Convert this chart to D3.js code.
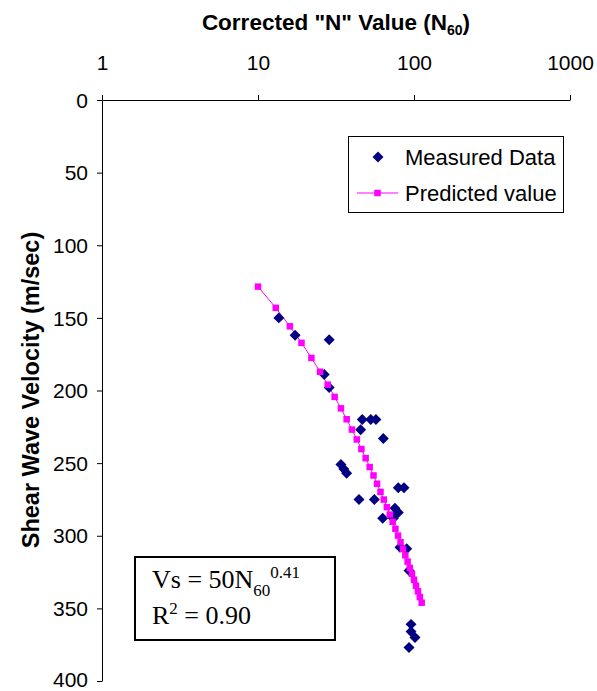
<!DOCTYPE html>
<html><head><meta charset="utf-8">
<script src="https://cdn.jsdelivr.net/npm/d3@7"></script>
<style>body{margin:0;background:#fff}svg{display:block}</style>
</head><body>
<svg id="chart" width="597" height="691"></svg>
<script>
const xTicks = [1, 10, 100, 1000];
const yTicks = [0, 50, 100, 150, 200, 250, 300, 350, 400];

const measuredN = [13.6, 17.3, 28.6, 26.6, 28.6, 46.6, 52.8, 57.0, 45.5, 63.6, 34.0, 35.5, 37.0, 79.3, 86.3, 44.4, 55.7, 75.5, 79.3, 63.0, 73.7, 81.3, 89.8, 92.9, 95.7, 95.7, 101.5, 92.9];
const measuredVs = [150, 162, 165, 189, 198, 220, 220, 220, 227, 233, 251, 254, 257, 267, 267, 275, 275, 281, 284, 288, 288, 308, 309, 324, 361, 366, 370, 377];

const predictedN = [10, 13, 16, 19, 22, 25, 28, 31, 34, 37, 40, 43, 46, 49, 52, 55, 58, 61, 64, 67, 70, 73, 76, 79, 82, 85, 88, 91, 94, 97, 100, 103, 106, 109, 112];
const predictedVs = [128.5, 143.1, 155.8, 167.2, 177.6, 187.1, 196.0, 204.4, 212.3, 219.8, 226.9, 233.7, 240.3, 246.6, 252.7, 258.5, 264.2, 269.8, 275.1, 280.3, 285.4, 290.4, 295.2, 299.9, 304.5, 309.1, 313.5, 317.8, 322.1, 326.2, 330.3, 334.4, 338.3, 342.2, 346.1];

const seriesNames = ["Measured Data", "Predicted value"];

const svg = d3.select("#chart");
const font = "'Liberation Sans', Arial, sans-serif";
const serif = "'Liberation Serif', 'Times New Roman', serif";
const fs = 21;

const x = d3.scaleLog().domain([1, 1000]).range([102, 570]);
const y = d3.scaleLinear().domain([0, 400]).range([100, 681]);

// X axis (top)
const xAxis = svg.append("g").attr("transform", `translate(0,${y(0)})`)
  .call(d3.axisTop(x).tickValues(xTicks).tickSize(5).tickSizeOuter(0).tickPadding(25).tickFormat(d3.format("d")));
xAxis.selectAll("text").attr("font-family", font).attr("font-size", fs).attr("fill", "#000");
xAxis.selectAll("line,path").attr("stroke", "#000").attr("stroke-width", 1);

// Y axis (left)
const yAxis = svg.append("g").attr("transform", `translate(${x(1)},0)`)
  .call(d3.axisLeft(y).tickValues(yTicks).tickSize(5).tickSizeOuter(0).tickPadding(9));
yAxis.selectAll("text").attr("font-family", font).attr("font-size", fs).attr("fill", "#000")
  .attr("dy", d => d === 400 ? "0.26em" : "0.34em");
yAxis.selectAll("line,path").attr("stroke", "#000").attr("stroke-width", 1);

// Titles
const t = svg.append("text").attr("x", 336).attr("y", 30).attr("text-anchor", "middle")
  .attr("font-family", font).attr("font-size", 22.5).attr("font-weight", "bold");
t.append("tspan").text('Corrected "N" Value (N');
t.append("tspan").text("60").attr("font-size", 14).attr("dy", 5);
t.append("tspan").text(")").attr("dy", -5);

svg.append("text").attr("transform", "translate(39,390) rotate(-90)").attr("text-anchor", "middle")
  .attr("font-family", font).attr("font-size", 23.5).attr("font-weight", "bold")
  .text("Shear Wave Velocity (m/sec)");

// Predicted line
const pred = predictedN.map((n, i) => ({n, v: predictedVs[i]}));
svg.append("path").datum(pred)
  .attr("d", d3.line().x(d => x(d.n)).y(d => y(d.v)))
  .attr("fill", "none").attr("stroke", "#FF00FF").attr("stroke-width", 1);

// Measured diamonds
const meas = measuredN.map((n, i) => ({n, v: measuredVs[i]}));
const diamond = d3.symbol().type(d3.symbolSquare).size(60);
svg.append("g").selectAll("path").data(meas).join("path")
  .attr("d", diamond)
  .attr("transform", d => `translate(${x(d.n)},${y(d.v)}) rotate(45)`)
  .attr("fill", "#000080");

// Predicted squares
const sq = 6.5;
svg.append("g").selectAll("rect").data(pred).join("rect")
  .attr("x", d => x(d.n) - sq / 2).attr("y", d => y(d.v) - sq / 2)
  .attr("width", sq).attr("height", sq).attr("fill", "#FF00FF");

// Legend
const lg = svg.append("g");
lg.append("rect").attr("x", 348.5).attr("y", 136.5).attr("width", 215).attr("height", 76)
  .attr("fill", "#fff").attr("stroke", "#000").attr("stroke-width", 1);
lg.append("path").attr("d", diamond).attr("transform", "translate(378,157) rotate(45)").attr("fill", "#000080");
lg.append("text").attr("x", 405).attr("y", 165).attr("font-family", font).attr("font-size", 22).text(seriesNames[0]);
lg.append("line").attr("x1", 357).attr("x2", 398).attr("y1", 193).attr("y2", 193).attr("stroke", "#FF00FF");
lg.append("rect").attr("x", 377.5 - sq / 2).attr("y", 193 - sq / 2).attr("width", sq).attr("height", sq).attr("fill", "#FF00FF");
lg.append("text").attr("x", 405).attr("y", 201).attr("font-family", font).attr("font-size", 22).text(seriesNames[1]);

// Equation box
const eq = svg.append("g");
eq.append("rect").attr("x", 135).attr("y", 557).attr("width", 200).attr("height", 83)
  .attr("fill", "#fff").attr("stroke", "#000").attr("stroke-width", 2);
const l1 = eq.append("text").attr("x", 152).attr("y", 588).attr("font-family", serif).attr("font-size", 26);
l1.append("tspan").text("Vs = 50N");
l1.append("tspan").text("60").attr("font-size", 17).attr("dy", 8);
l1.append("tspan").text("0.41").attr("font-size", 17).attr("dy", -18);
const l2 = eq.append("text").attr("x", 152).attr("y", 624).attr("font-family", serif).attr("font-size", 26);
l2.append("tspan").text("R");
l2.append("tspan").text("2").attr("font-size", 17).attr("dy", -10);
l2.append("tspan").text(" = 0.90").attr("dy", 10);
</script>
</body></html>
